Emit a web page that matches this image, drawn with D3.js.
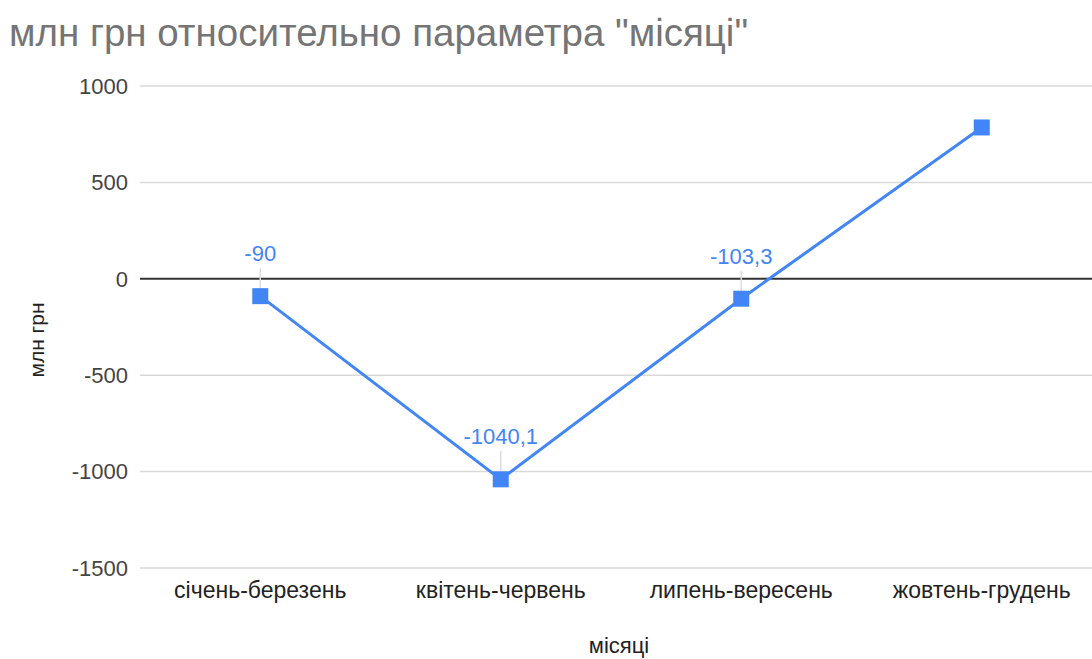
<!DOCTYPE html>
<html>
<script src="https://d3js.org/d3.v7.min.js"></script>

<head>
    <style>
        body {
            margin: 0;
            background: #fff;
            font-family: "Liberation Sans", Arial, sans-serif;
        }
    </style>
</head>

<body>
</body>
<script>
    const width = 1092,
        height = 659;
    const categories = ["січень-березень", "квітень-червень", "липень-вересень", "жовтень-грудень"];
    const values = [-90, -1040.1, -103.3, 785];
    const labels = ["-90", "-1040,1", "-103,3", ""];
    const yTicks = [-1500, -1000, -500, 0, 500, 1000];

    const svg = d3.select("body").append("svg").attr("width", width).attr("height", height);
    const blue = "#4285f4";

    const x = d3.scalePoint().domain(categories).range([140, 1102]).padding(0.5);
    const y = d3.scaleLinear().domain([-1500, 1000]).range([568, 86]);

    svg.append("text")
        .attr("x", 9)
        .attr("y", 46)
        .attr("font-size", "38.5px")
        .attr("fill", "#757575")
        .text('млн грн относительно параметра "місяці"');

    // grid
    svg.selectAll(".grid").data(yTicks).enter().append("line")
        .attr("x1", 140).attr("x2", width)
        .attr("y1", d => y(d)).attr("y2", d => y(d))
        .attr("stroke", d => d === 0 ? "#333" : "#d9d9d9")
        .attr("stroke-width", d => d === 0 ? 2 : 1.5);

    svg.selectAll(".ytick").data(yTicks).enter().append("text")
        .attr("x", 128)
        .attr("y", d => y(d))
        .attr("dy", "0.35em")
        .attr("text-anchor", "end")
        .attr("font-size", "22px")
        .attr("fill", "#444")
        .text(d => d);

    svg.selectAll(".xtick").data(categories).enter().append("text")
        .attr("x", d => x(d))
        .attr("y", 598)
        .attr("text-anchor", "middle")
        .attr("font-size", "23px")
        .attr("fill", "#222")
        .text(d => d);

    svg.append("text")
        .attr("x", 619).attr("y", 653)
        .attr("text-anchor", "middle")
        .attr("font-size", "22px")
        .attr("fill", "#222")
        .text("місяці");

    svg.append("text")
        .attr("transform", "translate(44," + 340 + ") rotate(-90)")
        .attr("text-anchor", "middle")
        .attr("font-size", "21px")
        .attr("fill", "#222")
        .text("млн грн");

    const pts = categories.map((c, i) => ({ c: c, v: values[i], l: labels[i] }));

    // leader lines
    svg.selectAll(".lead").data(pts.filter(d => d.l)).enter().append("line")
        .attr("x1", d => x(d.c)).attr("x2", d => x(d.c))
        .attr("y1", d => y(d.v) - 28).attr("y2", d => y(d.v))
        .attr("stroke", "#ddd").attr("stroke-width", 1.5);

    svg.append("path")
        .datum(pts)
        .attr("fill", "none")
        .attr("stroke", blue)
        .attr("stroke-width", 3)
        .attr("d", d3.line().x(d => x(d.c)).y(d => y(d.v)));

    svg.selectAll(".mark").data(pts).enter().append("rect")
        .attr("x", d => x(d.c) - 8)
        .attr("y", d => y(d.v) - 8)
        .attr("width", 16).attr("height", 16)
        .attr("fill", blue);

    svg.selectAll(".lbl").data(pts.filter(d => d.l)).enter().append("text")
        .attr("x", d => x(d.c))
        .attr("y", d => y(d.v) - 35)
        .attr("text-anchor", "middle")
        .attr("font-size", "22px")
        .attr("fill", blue)
        .text(d => d.l);
</script>

</html>
